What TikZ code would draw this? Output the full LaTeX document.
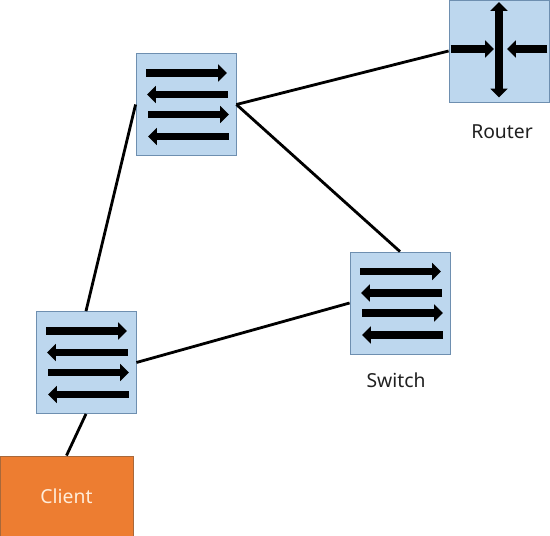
\documentclass[tikz,border=0pt]{standalone}
\usepackage{fontspec}
\setmainfont{Noto Sans}
\usetikzlibrary{arrows.meta}
\definecolor{boxblue}{HTML}{BDD7EE}
\definecolor{boxline}{HTML}{6E8FB0}
\definecolor{clientorange}{HTML}{ED7D31}
\definecolor{clientline}{HTML}{A8683A}
\definecolor{labelgray}{HTML}{202020}
\tikzset{
	netbox/.style={draw=boxline, fill=boxblue, line width=0.5pt, inner sep=0pt, minimum width=2cm, minimum height=2.04cm},
	link/.style={line width=1.6pt, black},
	flow/.style={line width=4.1pt, -{Triangle[length=5pt, width=9.5pt]}},
	bothflow/.style={line width=4.4pt, {Triangle[length=5pt, width=9.5pt]}-{Triangle[length=5pt, width=9.5pt]}},
	caption/.style={font=\fontsize{11}{13}\selectfont, text=labelgray},
}
\begin{document}
\begin{tikzpicture}[x=0.02cm, y=-0.02cm]
	\useasboundingbox (0,0) rectangle (550,536);
	% Nút mạng
	\node[netbox] (swA) at (186,104.5) {};
	\node[netbox] (swB) at (400,303) {};
	\node[netbox] (swC) at (86,362.5) {};
	\node[netbox] (router) at (499,51) {};
	\node[draw=clientline, fill=clientorange, line width=0.5pt, inner sep=0pt, minimum width=2.66cm, minimum height=1.6cm, font=\fontsize{11}{13}\selectfont, text=orange!15] (client) at (66.5,496) {Client};
	
	% Đường nối
	\draw[link] (swA.east) -- (router.west);
	\draw[link] (swA.east) -- (swB.north);
	\draw[link] (swA.west) -- (swC.north);
	\draw[link] (swC.east) -- (swB.west);
	\draw[link] (swC.south) -- (client.north);
	
	% Mũi tên trong switch
	\foreach \sw in {swA,swB,swC} {
		\draw[flow] ([xshift=-0.8cm, yshift=0.63cm]\sw.center) -- ([xshift=0.82cm, yshift=0.63cm]\sw.center);
		\draw[flow] ([xshift=0.84cm, yshift=0.2cm]\sw.center) -- ([xshift=-0.78cm, yshift=0.2cm]\sw.center);
		\draw[flow] ([xshift=-0.76cm, yshift=-0.2cm]\sw.center) -- ([xshift=0.86cm, yshift=-0.2cm]\sw.center);
		\draw[flow] ([xshift=0.86cm, yshift=-0.64cm]\sw.center) -- ([xshift=-0.76cm, yshift=-0.64cm]\sw.center);
	}
	
	% Mũi tên trong router
	\draw[flow] ([xshift=0.04cm, yshift=0.04cm]router.west) -- ([xshift=-0.1cm, yshift=0.04cm]router.center);
	\draw[flow] ([xshift=-0.04cm, yshift=0.04cm]router.east) -- ([xshift=0.16cm, yshift=0.04cm]router.center);
	\draw[bothflow] ([yshift=-0.05cm]router.north) -- ([yshift=0.1cm]router.south);
	
	% Nhãn
	\node[caption] (routerlabel) at (502,132) {Router};
	\node[caption] (switchlabel) at (396,380) {Switch};
\end{tikzpicture}
\end{document}
